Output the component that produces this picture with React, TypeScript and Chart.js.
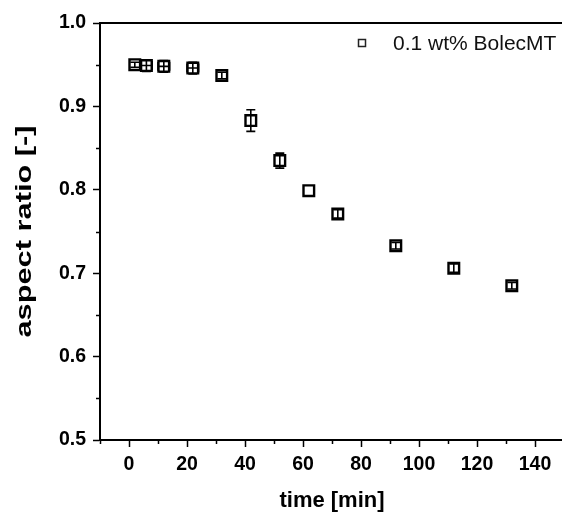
import { useEffect, useRef } from 'react';
import { Chart, registerables } from 'chart.js';

Chart.register(...registerables);

// Aspect ratio of the particles over time, 0.1 wt% BolecMT
const seriesLabel = '0.1 wt% BolecMT';
const yAxisTitle = 'aspect ratio [-]';
const xAxisTitle = 'time [min]';
const timeMin = [2, 6, 12, 22, 32, 42, 52, 62, 72, 92, 112, 132];
const aspectRatio = [0.95, 0.949, 0.948, 0.946, 0.937, 0.883, 0.835, 0.799, 0.771, 0.733, 0.706, 0.685];
const aspectErr = [0.003, 0.007, 0.007, 0.007, 0.004, 0.013, 0.009, 0.0, 0.005, 0.004, 0.005, 0.004];
const timeErr = [0, 2, 2, 2, 0, 0, 0, 0, 0, 0, 0, 0];

const xTicks = [0, 20, 40, 60, 80, 100, 120, 140];
const xMinorTicks = [-10, 10, 30, 50, 70, 90, 110, 130, 150];
const yTicks = [0.5, 0.6, 0.7, 0.8, 0.9, 1.0];
const yMinorTicks = [0.55, 0.65, 0.75, 0.85, 0.95];

const FONT = '"Liberation Sans", Arial, Helvetica, sans-serif';
const INK = '#000000';
const AXIS_W = 2;

// Error bars (vertical and horizontal) with caps, computed through the scales
const errorBarPlugin = {
  id: 'errorBars',
  afterDatasetsDraw(chart: any) {
    const { ctx, scales } = chart;
    const xs = scales.x;
    const ys = scales.y;
    const cap = 4.5;
    ctx.save();
    ctx.strokeStyle = INK;
    ctx.lineWidth = 1.6;
    timeMin.forEach((t, i) => {
      const px = xs.getPixelForValue(t);
      const py = ys.getPixelForValue(aspectRatio[i]);
      const ey = aspectErr[i];
      if (ey > 0) {
        const top = ys.getPixelForValue(aspectRatio[i] + ey);
        const bot = ys.getPixelForValue(aspectRatio[i] - ey);
        ctx.beginPath();
        ctx.moveTo(px, top);
        ctx.lineTo(px, bot);
        ctx.moveTo(px - cap, top);
        ctx.lineTo(px + cap, top);
        ctx.moveTo(px - cap, bot);
        ctx.lineTo(px + cap, bot);
        ctx.stroke();
      }
      const ex = timeErr[i];
      if (ex > 0) {
        const l = xs.getPixelForValue(t - ex);
        const r = xs.getPixelForValue(t + ex);
        ctx.beginPath();
        ctx.moveTo(l, py);
        ctx.lineTo(r, py);
        ctx.moveTo(l, py - cap);
        ctx.lineTo(l, py + cap);
        ctx.moveTo(r, py - cap);
        ctx.lineTo(r, py + cap);
        ctx.stroke();
      }
    });
    ctx.restore();
  },
};

// Top frame line, minor ticks, the y title and the in-plot legend
const framePlugin = {
  id: 'frame',
  afterDraw(chart: any) {
    const { ctx, chartArea, scales } = chart;
    const xs = scales.x;
    const ys = scales.y;
    ctx.save();
    ctx.strokeStyle = INK;
    ctx.lineWidth = AXIS_W;
    ctx.beginPath();
    ctx.moveTo(chartArea.left - 1, chartArea.top);
    ctx.lineTo(chartArea.right, chartArea.top);
    ctx.stroke();

    ctx.lineWidth = 1.5;
    ctx.beginPath();
    xMinorTicks.forEach((v) => {
      const px = Math.round(xs.getPixelForValue(v)) + 0.5;
      ctx.moveTo(px, chartArea.bottom);
      ctx.lineTo(px, chartArea.bottom + 4);
    });
    yMinorTicks.forEach((v) => {
      const py = Math.round(ys.getPixelForValue(v)) + 0.5;
      ctx.moveTo(chartArea.left, py);
      ctx.lineTo(chartArea.left - 4, py);
    });
    ctx.stroke();

    // y title, set in a tall condensed-looking style along the axis
    ctx.save();
    ctx.translate(25, (chartArea.top + chartArea.bottom) / 2);
    ctx.rotate(-Math.PI / 2);
    ctx.scale(1.4, 1);
    ctx.fillStyle = INK;
    ctx.font = `bold 22px ${FONT}`;
    ctx.textAlign = 'center';
    ctx.textBaseline = 'middle';
    ctx.fillText(yAxisTitle, 0, 0);
    ctx.restore();

    // legend
    const lx = chartArea.right - 202;
    const ly = chartArea.top + 20;
    ctx.strokeStyle = '#222222';
    ctx.lineWidth = 1.5;
    ctx.strokeRect(lx - 3.5, ly - 3.5, 7, 7);
    ctx.fillStyle = '#111111';
    ctx.font = `21px ${FONT}`;
    ctx.textBaseline = 'middle';
    ctx.textAlign = 'left';
    ctx.fillText(chart.data.datasets[0].label, lx + 31, ly + 1);
    ctx.restore();
  },
};

export default function App() {
  const canvasRef = useRef<HTMLCanvasElement | null>(null);

  useEffect(() => {
    const canvas = canvasRef.current;
    if (!canvas) return;
    const chart = new Chart(canvas, {
      type: 'scatter',
      data: {
        datasets: [
          {
            label: seriesLabel,
            data: timeMin.map((t, i) => ({ x: t, y: aspectRatio[i] })),
            pointStyle: 'rect',
            pointRadius: 7.5,
            pointHoverRadius: 7.5,
            borderWidth: 2.4,
            borderColor: INK,
            backgroundColor: 'rgba(0,0,0,0)',
          },
        ],
      },
      options: {
        animation: false,
        responsive: false,
        devicePixelRatio: 1,
        layout: { padding: { top: 23, right: 16, left: 0, bottom: 0 } },
        plugins: {
          legend: { display: false },
          tooltip: { enabled: false },
        },
        scales: {
          x: {
            type: 'linear',
            min: -10,
            max: 150,
            afterBuildTicks: (scale: any) => {
              scale.ticks = xTicks.map((v) => ({ value: v }));
            },
            afterFit: (scale: any) => {
              scale.height = 72;
            },
            ticks: {
              color: INK,
              font: { family: FONT, size: 19.5, weight: 'bold' },
              padding: 6,
              maxRotation: 0,
              autoSkip: false,
              callback: (v: any) => String(v),
            },
            grid: {
              display: true,
              drawOnChartArea: false,
              drawTicks: true,
              tickLength: 7,
              tickColor: INK,
              tickWidth: 1.5,
            },
            border: { display: true, color: INK, width: AXIS_W },
            title: {
              display: true,
              text: xAxisTitle,
              color: INK,
              font: { family: FONT, size: 22, weight: 'bold' },
              padding: { top: 0, bottom: -2 },
            },
          },
          y: {
            type: 'linear',
            min: 0.5,
            max: 1.0,
            afterBuildTicks: (scale: any) => {
              scale.ticks = yTicks.map((v) => ({ value: v }));
            },
            afterFit: (scale: any) => {
              scale.width = 100;
            },
            ticks: {
              color: INK,
              font: { family: FONT, size: 19.5, weight: 'bold' },
              padding: 7,
              autoSkip: false,
              callback: (v: any) => Number(v).toFixed(1),
            },
            grid: {
              display: true,
              drawOnChartArea: false,
              drawTicks: true,
              tickLength: 7,
              tickColor: INK,
              tickWidth: 1.5,
            },
            border: { display: true, color: INK, width: AXIS_W },
            title: { display: false },
          },
        },
      } as any,
      plugins: [errorBarPlugin, framePlugin],
    });
    return () => chart.destroy();
  }, []);

  return (
    <div
      style={{
        position: 'fixed',
        left: 0,
        top: 0,
        width: 562,
        height: 512,
        overflow: 'hidden',
        background: '#ffffff',
      }}
    >
      <canvas ref={canvasRef} width={580} height={512} style={{ display: 'block' }} />
    </div>
  );
}
